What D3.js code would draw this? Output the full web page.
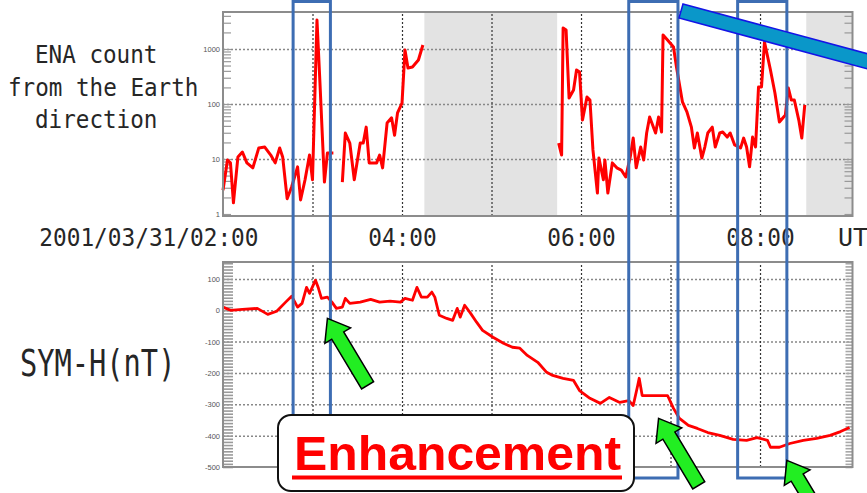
<!DOCTYPE html>
<html>
<head>
<meta charset="utf-8">
<script src="https://cdn.jsdelivr.net/npm/d3@7"></script>
<style>
    html, body { margin: 0; padding: 0; background: #fff; }
    svg { display: block; }
    .mono { font-family: "DejaVu Sans Mono", monospace; fill: #262626; }
    .ticklabel { font-family: "Liberation Sans", Arial, sans-serif; font-size: 7.5px; fill: #555; }
</style>
</head>
<body>
<svg id="chart" width="867" height="493"></svg>
<script>
// all times are minutes after 2001/03/31 02:00 UT, null = no data
var enaMinutes = [0, 3, 5, 7, 10, 13, 16, 20, 24, 28, 32, 35, 38, 40, 43, 46, 50, 52, 55, 58, 60, 63, 65, 68, 70, 74,
    77,
    80, 82, 85, 88, 92, 94, 96, 98, 103, 105, 107, 110, 113, 115, 117, 120, 122, 124, 127, 131, 134,
    180,
    225, 227, 228, 230, 232, 235, 237, 239, 241, 244, 246, 248, 251, 252, 255, 256, 258, 261, 264, 267, 270,
    273, 275, 277, 280, 282, 284, 286, 290, 292, 294, 295, 298, 302, 304, 308, 311, 314, 316, 318, 321, 323,
    325, 328, 330, 333, 335, 338, 340, 343, 347, 349, 351, 353, 355, 357, 359, 361, 363, 367, 370, 373, 377,
    379, 381, 383, 386, 388, 390];
var enaCounts = [2.7, 9.6, 8.5, 1.6, 10.9, 13.4, 8.5, 6.9, 15.9, 16.5, 11.8, 8.5, 15.9, 10.9, 1.9, 3.1, 7.2, 1.8, 4.2, 11.8, 4.2, 3370, 241, 3.8, 12.9, 12.9,
    null,
    3.8, 29.7, 19.5, 4.2, 19.5, 19.5, 38, 8.5, 8.5, 11.8, 6.9, 45, 56, 27, 69, 104, 960, 452, 471, 630, 1180,
    null,
    19.5, 11.8, 2410, 2210, 128, 180, 415, 382, 51, 134, 118, 14.6, 2.4, 10.4, 4.2, 9.6, 2.4, 8.5, 6.9, 6.3, 4.7,
    10.9, 24, 6.9, 16.5, 9.6, 29.7, 58, 29.7, 58, 31, 1800, 1460, 1090, 471, 109, 72, 38, 15.9, 29.7, 10.4, 16.5,
    29.7, 38, 16.5, 29.7, 31, 25, 29.7, 18, 15.9, 24, 16.5, 7.2, 25, 16.5, 204, 204, 1340, 415, 158, 47, 63,
    195, 118, 118, 51, 24, 96];

var symMinutes = [0, 5, 13, 23, 30, 36, 42, 46, 50, 53, 56, 58, 62, 64, 66, 70, 73, 76, 80, 82,
    85, 92, 99, 105, 112, 119, 122, 127, 130, 133, 137, 140, 142, 145, 150, 154, 157, 159, 162, 166,
    170, 174, 181, 188, 194, 199, 204, 211, 217, 221, 228, 235, 239, 246, 253, 259, 266, 272, 275, 278,
    279, 281, 286, 293, 298, 302, 306, 312, 318, 325, 333, 342, 351, 358, 365, 367, 373, 380, 389, 398,
    407, 414, 420];
var symValues = [10, 0, 3, 6, -13, -3, 26, 45, 10, 22, 73, 54, 96, 70, 38, 42, 26, 6, 10, 38,
    22, 26, 35, 26, 29, 26, 38, 32, 73, 42, 42, 58, 42, -16, -26, -32, 6, -22, 16, -10,
    -38, -64, -86, -105, -118, -121, -144, -166, -198, -208, -217, -224, -256, -281, -297, -278, -294, -288, -304, -240,
    -217, -272, -272, -272, -272, -313, -345, -367, -377, -390, -399, -412, -415, -406, -415, -437, -437, -425, -415, -409,
    -399, -387, -374];

var hourGrid = [60, 120, 180, 240, 300, 360];
var timeLabelMinutes = [0, 120, 240, 360];
var timeLabels = ['2001/03/31/02:00', '04:00', '06:00', '08:00'];
var enaTicks = [1, 10, 100, 1000];
var symTicks = [-500, -400, -300, -200, -100, 0, 100];
var noDataStart = [135, 391];
var noDataEnd = [224, 422];

// annotation: event windows and arrows (arrow tips given in SYM-H coordinates)
var eventStart = [47, 272, 345];
var eventEnd = [72, 305, 378];
var arrowMinutes = [70, 292, 378];
var arrowSymH = [-26, -345, -479];

var svg = d3.select('#chart');

var x = d3.scaleLinear().domain([0, 422]).range([223, 852.5]);
var yEna = d3.scaleLog().domain([0.92, 4700]).range([216, 12]);
var ySym = d3.scaleLinear().domain([-500, 154]).range([467, 262]);

var left = x.range()[0], right = x.range()[1];

function frame(y) {
    svg.append('rect')
        .attr('x', left).attr('y', y.range()[1])
        .attr('width', right - left).attr('height', y.range()[0] - y.range()[1])
        .attr('fill', 'none').attr('stroke', '#8c8c8c').attr('stroke-width', 2);
}

// strip axis line and empty labels, keep tick lines only
function linesOnly(g) {
    g.select('.domain').remove();
    g.selectAll('text').remove();
}

function clean(g) {
    g.select('.domain').remove();
}

// ---------- top panel: ENA count ----------
for (var i = 0; i < noDataStart.length; i++) {
    svg.append('rect')
        .attr('x', x(noDataStart[i])).attr('y', yEna.range()[1])
        .attr('width', x(noDataEnd[i]) - x(noDataStart[i]))
        .attr('height', yEna.range()[0] - yEna.range()[1])
        .attr('fill', '#e3e3e3');
}

// horizontal grid
svg.append('g')
    .attr('transform', 'translate(' + left + ',0)')
    .call(d3.axisRight(yEna).tickValues([10, 100, 1000]).tickSize(right - left))
    .call(linesOnly)
    .selectAll('line').attr('stroke', '#888').attr('stroke-width', 1.5).attr('stroke-dasharray', '2,2');

// vertical grid
svg.append('g')
    .attr('transform', 'translate(0,' + yEna.range()[0] + ')')
    .call(d3.axisBottom(x).tickValues(hourGrid).tickSize(-(yEna.range()[0] - yEna.range()[1])))
    .call(linesOnly)
    .selectAll('line').attr('stroke', '#333').attr('stroke-width', 1.2).attr('stroke-dasharray', '2,2');

// log minor ticks
var minor = [];
[1, 10, 100, 1000].forEach(function(dec) {
    for (var k = 1; k < 10; k++) {
        if (dec * k <= 4700) minor.push(dec * k);
    }
});
svg.append('g')
    .attr('transform', 'translate(' + left + ',0)')
    .call(d3.axisRight(yEna).tickValues(minor).tickSize(8))
    .call(linesOnly)
    .selectAll('line').attr('stroke', '#999').attr('stroke-width', 1.2);
svg.append('g')
    .attr('transform', 'translate(' + right + ',0)')
    .call(d3.axisLeft(yEna).tickValues(minor).tickSize(8))
    .call(linesOnly)
    .selectAll('line').attr('stroke', '#999').attr('stroke-width', 1.2);

svg.append('g')
    .attr('transform', 'translate(' + (left - 1) + ',0)')
    .call(d3.axisLeft(yEna).tickValues(enaTicks).tickSize(0).tickPadding(2).tickFormat(d3.format('d')))
    .call(clean)
    .selectAll('text').attr('class', 'ticklabel').attr('font-size', null).attr('font-family', null);

var enaPoints = enaMinutes.map(function(m, i) { return [m, enaCounts[i]]; });
svg.append('path')
    .datum(enaPoints)
    .attr('fill', 'none')
    .attr('stroke', '#ff0000')
    .attr('stroke-width', 3)
    .attr('stroke-linejoin', 'round')
    .attr('d', d3.line()
        .defined(function(d) { return d[1] != null; })
        .x(function(d) { return x(d[0]); })
        .y(function(d) { return yEna(d[1]); }));

frame(yEna);

// ---------- bottom panel: SYM-H ----------
svg.append('g')
    .attr('transform', 'translate(' + left + ',0)')
    .call(d3.axisRight(ySym).tickValues(symTicks.slice(1)).tickSize(right - left))
    .call(linesOnly)
    .selectAll('line').attr('stroke', '#888').attr('stroke-width', 1.5).attr('stroke-dasharray', '2,2');

svg.append('g')
    .attr('transform', 'translate(0,' + ySym.range()[0] + ')')
    .call(d3.axisBottom(x).tickValues(hourGrid).tickSize(-(ySym.range()[0] - ySym.range()[1])))
    .call(linesOnly)
    .selectAll('line').attr('stroke', '#333').attr('stroke-width', 1.2).attr('stroke-dasharray', '2,2');

// dense ticks make the grey side bands
var symMinor = d3.range(-500, 155, 10);
svg.append('g')
    .attr('transform', 'translate(' + left + ',0)')
    .call(d3.axisRight(ySym).tickValues(symMinor).tickSize(10))
    .call(linesOnly)
    .selectAll('line').attr('stroke', '#9a9a9a').attr('stroke-width', 1.6);
svg.append('g')
    .attr('transform', 'translate(' + right + ',0)')
    .call(d3.axisLeft(ySym).tickValues(symMinor).tickSize(7))
    .call(linesOnly)
    .selectAll('line').attr('stroke', '#a8a8a8').attr('stroke-width', 1.6);

svg.append('g')
    .attr('transform', 'translate(' + (left - 1) + ',0)')
    .call(d3.axisLeft(ySym).tickValues(symTicks).tickSize(0).tickPadding(2).tickFormat(function(d) { return String(d); }))
    .call(clean)
    .selectAll('text').attr('class', 'ticklabel').attr('font-size', null).attr('font-family', null);

var symPoints = symMinutes.map(function(m, i) { return [m, symValues[i]]; });
svg.append('path')
    .datum(symPoints)
    .attr('fill', 'none')
    .attr('stroke', '#ff0000')
    .attr('stroke-width', 2.8)
    .attr('stroke-linejoin', 'round')
    .attr('d', d3.line()
        .x(function(d) { return x(d[0]); })
        .y(function(d) { return ySym(d[1]); }));

frame(ySym);

// ---------- texts ----------
var timeAxis = svg.append('g')
    .attr('transform', 'translate(0,224)')
    .call(d3.axisBottom(x).tickValues(timeLabelMinutes).tickSize(0).tickPadding(0)
        .tickFormat(function(d, i) { return timeLabels[i]; }))
    .call(clean);
timeAxis.selectAll('text')
    .attr('class', 'mono')
    .attr('font-size', null).attr('font-family', null)
    .attr('dy', null)
    .attr('y', 22)
    .style('font-size', '25px')
    .attr('textLength', function(d, i) { return timeLabels[i].length * 13.7; })
    .attr('lengthAdjust', 'spacingAndGlyphs')
    .attr('text-anchor', function(d, i) { return i === 0 ? 'end' : 'middle'; })
    .attr('x', function(d, i) { return i === 0 ? 35 : 0; });

svg.append('text').attr('class', 'mono')
    .attr('x', 838).attr('y', 246)
    .style('font-size', '25px')
    .attr('textLength', 30).attr('lengthAdjust', 'spacingAndGlyphs')
    .text('UT');

var enaTitle = ['ENA count', 'from the Earth', 'direction'];
var enaTitleX = [35, 8, 35];
enaTitle.forEach(function(t, i) {
    svg.append('text').attr('class', 'mono')
        .attr('x', enaTitleX[i]).attr('y', 63 + i * 32.5)
        .style('font-size', '24px')
        .attr('textLength', t.length * 13.6).attr('lengthAdjust', 'spacingAndGlyphs')
        .text(t);
});

// tall narrow label: squeeze horizontally
svg.append('text').attr('class', 'mono')
    .attr('transform', 'translate(20,376) scale(0.755,1)')
    .style('font-size', '38px')
    .text('SYM-H(nT)');

// ---------- annotations ----------
for (var j = 0; j < eventStart.length; j++) {
    svg.append('rect')
        .attr('x', x(eventStart[j])).attr('y', 1.5)
        .attr('width', x(eventEnd[j]) - x(eventStart[j]))
        .attr('height', 476.5)
        .attr('fill', 'none')
        .attr('stroke', '#3d6db3')
        .attr('stroke-width', 3);
}

// pointer bar leaving the top right corner
svg.append('polygon')
    .attr('points', '683,4 872,55 872,70 679,18')
    .attr('fill', '#0a97c9')
    .attr('stroke', '#1414e6')
    .attr('stroke-width', 1.5);

// green arrows, drawn pointing along +x from the tip, then rotated
var arrowShape = [[0, 0], [20, -15], [20, -7], [78, -7], [78, 7], [20, 7], [20, 15]];
for (var a = 0; a < arrowMinutes.length; a++) {
    svg.append('polygon')
        .attr('points', arrowShape.map(function(p) { return p.join(','); }).join(' '))
        .attr('transform', 'translate(' + x(arrowMinutes[a]) + ',' + ySym(arrowSymH[a]) + ') rotate(59)')
        .attr('fill', '#22ee22')
        .attr('stroke', '#000')
        .attr('stroke-width', 1.5)
        .attr('stroke-linejoin', 'miter');
}

svg.append('rect')
    .attr('x', 278).attr('y', 415)
    .attr('width', 356).attr('height', 76)
    .attr('rx', 13)
    .attr('fill', '#fff')
    .attr('stroke', '#111')
    .attr('stroke-width', 2);

svg.append('text')
    .attr('x', 294).attr('y', 470)
    .style('font-family', '"Liberation Sans", Arial, sans-serif')
    .style('font-weight', 'bold')
    .style('font-size', '48px')
    .attr('fill', '#ff0000')
    .attr('textLength', 327).attr('lengthAdjust', 'spacingAndGlyphs')
    .text('Enhancement');

svg.append('rect')
    .attr('x', 292).attr('y', 475.5)
    .attr('width', 330).attr('height', 4)
    .attr('fill', '#ff0000');
</script>
</body>
</html>
